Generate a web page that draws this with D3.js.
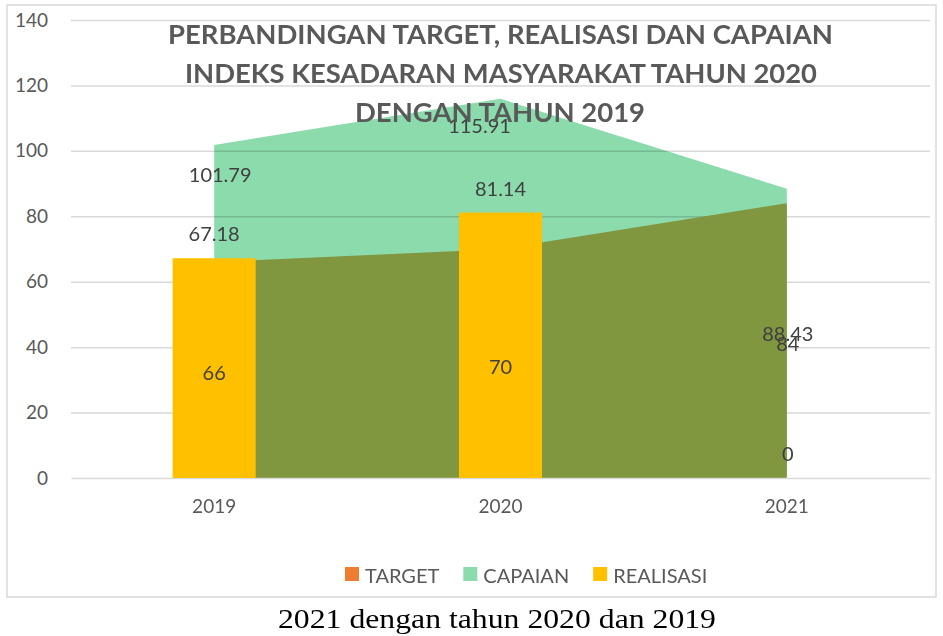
<!DOCTYPE html>
<html>
<head>
<meta charset="utf-8">
<script src="https://cdn.jsdelivr.net/npm/d3@7"></script>
<style>
  html, body { margin: 0; padding: 0; background: #fff; }
  svg text { font-family: Lato, "Open Sans", sans-serif; }
</style>
</head>
<body>
<div id="chart"></div>
<script>
// data
const years = ["2019", "2020", "2021"];
const target = [66, 70, 84];
const capaian = [101.79, 115.91, 88.43];
const realisasi = [67.18, 81.14, 0];
const yTicks = [0, 20, 40, 60, 80, 100, 120, 140];
const titleLines = [
  "PERBANDINGAN TARGET, REALISASI DAN CAPAIAN",
  "INDEKS KESADARAN MASYARAKAT TAHUN 2020",
  "DENGAN TAHUN 2019"
];
const legendItems = [
  {name: "TARGET", color: "#ED7D31"},
  {name: "CAPAIAN", color: "#8BDBAD"},
  {name: "REALISASI", color: "#FFC000"}
];
const caption = "2021 dengan tahun 2020 dan 2019";

const W = 943, H = 636;
const plot = {left: 71, right: 930, top: 20, bottom: 478};

const svg = d3.select("#chart").append("svg")
    .attr("width", W)
    .attr("height", H);

// chart frame
svg.append("rect")
    .attr("x", 7).attr("y", 5)
    .attr("width", 929).attr("height", 592)
    .attr("fill", "#fff")
    .attr("stroke", "#D9D9D9")
    .attr("stroke-width", 1.5);

let x = d3.scaleBand().domain(years).range([plot.left, plot.right]);
let y = d3.scaleLinear().domain([0, 140]).range([plot.bottom, plot.top]);
const cx = d => x(d) + x.bandwidth() / 2;

// capaian area (drawn under the grid so the lines show through)
let area = d3.area()
    .x((d, i) => cx(years[i]))
    .y0(y(0))
    .y1(d => y(d));

svg.append("path")
    .datum(capaian)
    .attr("d", area)
    .attr("fill", "#8BDBAD");

// gridlines
let grid = svg.append("g")
    .attr("transform", `translate(${plot.left},0)`)
    .style("mix-blend-mode", "multiply")
    .call(d3.axisLeft(y).tickValues(yTicks.slice(1))
        .tickSize(-(plot.right - plot.left)).tickFormat(""));
grid.select(".domain").remove();
grid.selectAll("line").attr("stroke", "#D9D9D9").attr("stroke-width", 1.5);

// target area
svg.append("path")
    .datum(target)
    .attr("d", area)
    .attr("fill", "#80963F");

// x axis
let xAxis = svg.append("g")
    .attr("transform", `translate(0,${plot.bottom})`)
    .call(d3.axisBottom(x).tickSize(0).tickPadding(22));
xAxis.select(".domain").attr("stroke", "#D9D9D9").attr("stroke-width", 1.5);
xAxis.selectAll("text")
    .style("font-family", "Lato, sans-serif")
    .style("font-size", "19px")
    .attr("fill", "#595959");

// y axis labels
let yAxis = svg.append("g")
    .attr("transform", `translate(48,0)`)
    .call(d3.axisLeft(y).tickValues(yTicks).tickSize(0).tickPadding(0));
yAxis.select(".domain").remove();
yAxis.selectAll("text")
    .style("font-family", "Lato, sans-serif")
    .style("font-size", "19px")
    .attr("fill", "#595959");

// realisasi bars
const barW = x.bandwidth() * 0.29;
svg.append("g").selectAll("rect")
    .data(realisasi)
    .join("rect")
    .attr("x", (d, i) => cx(years[i]) - barW / 2)
    .attr("y", d => y(d))
    .attr("width", barW)
    .attr("height", d => y(0) - y(d))
    .attr("fill", "#FFC000");

// data labels
const labelStyle = sel => sel
    .attr("text-anchor", "middle")
    .attr("dominant-baseline", "central")
    .style("font-size", "20px")
    .attr("fill", "#404040");

// capaian labels were moved by hand in the original, so place them where they sit
const capaianLabelAt = [93, 108, 44.2];
const capaianLabelDx = [6, -21, 1];
svg.append("g").selectAll("text")
    .data(capaian)
    .join("text")
    .attr("x", (d, i) => cx(years[i]) + capaianLabelDx[i])
    .attr("y", (d, i) => y(capaianLabelAt[i]))
    .text(d => d.toFixed(2))
    .call(labelStyle);

svg.append("g").selectAll("text")
    .data(target)
    .join("text")
    .attr("x", (d, i) => cx(years[i]) + (i === 2 ? 1 : 0))
    .attr("y", d => y(d / 2) + 2)
    .text(d => d)
    .call(labelStyle);

svg.append("g").selectAll("text")
    .data(realisasi)
    .join("text")
    .attr("x", (d, i) => cx(years[i]) + (i === 2 ? 1 : 0))
    .attr("y", d => y(d) - 25)
    .text(d => d)
    .call(labelStyle);

// title on top of everything
const titleStart = [168, 185, 355];
const titleLen = [665, 632, 290];
svg.append("g").selectAll("text")
    .data(titleLines)
    .join("text")
    .attr("x", (d, i) => titleStart[i])
    .attr("y", (d, i) => 44 + i * 39)
    .attr("textLength", (d, i) => titleLen[i])
    .attr("lengthAdjust", "spacingAndGlyphs")
    .style("font-size", "26.5px")
    .style("font-weight", "bold")
    .attr("fill", "#595959")
    .text(d => d);

// legend
let lx = 345;
const legend = svg.append("g");
legendItems.forEach(item => {
  legend.append("rect")
      .attr("x", lx).attr("y", 567)
      .attr("width", 14).attr("height", 14)
      .attr("fill", item.color);
  let t = legend.append("text")
      .attr("x", lx + 20)
      .attr("y", 575)
      .attr("dominant-baseline", "central")
      .style("font-size", "20px")
      .attr("fill", "#595959")
      .text(item.name);
  lx += 20 + t.node().getComputedTextLength() + 24;
});

// caption under the chart
svg.append("text")
    .attr("x", 278)
    .attr("y", 628)
    .attr("textLength", 438)
    .attr("lengthAdjust", "spacingAndGlyphs")
    .style("font-family", "'Liberation Serif', 'DejaVu Serif', serif")
    .style("font-size", "28px")
    .attr("fill", "#000")
    .text(caption);
</script>
</body>
</html>
